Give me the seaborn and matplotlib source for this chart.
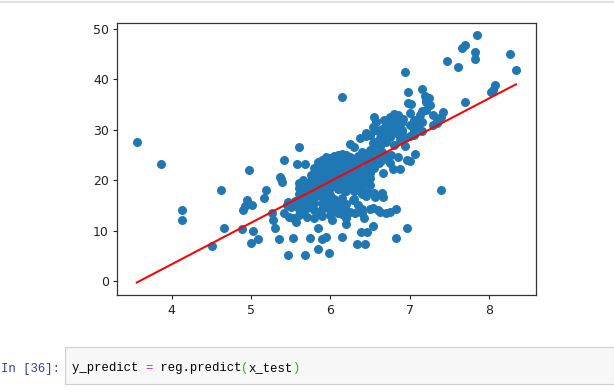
import numpy as np
import matplotlib
matplotlib.use("Agg")
import matplotlib.pyplot as plt
import seaborn as sns
from matplotlib.patches import Rectangle

# sparse points on the left / bottom
left_pts = [(3.56, 27.5), (3.86, 23.1), (4.13, 14.0), (4.13, 12.0), (4.51, 7.0), (4.62, 18.0),
            (4.66, 10.5), (4.88, 10.3), (4.97, 22.0), (4.90, 14.1), (4.95, 16.1), (5.01, 15.1),
            (4.93, 14.8), (5.03, 9.9), (5.00, 7.5), (5.09, 8.3), (5.16, 16.5), (5.19, 18.0),
            (5.26, 13.4), (5.28, 12.1), (5.30, 10.5), (5.35, 8.3), (5.36, 20.7), (5.39, 19.7),
            (5.38, 20.2), (5.42, 23.9), (5.46, 5.1), (5.41, 13.4), (5.47, 15.7), (5.53, 8.5),
            (5.53, 12.4), (5.57, 11.6), (5.60, 26.5), (5.58, 23.1), (5.68, 23.1), (5.68, 5.1),
            (5.74, 8.5), (5.84, 10.5), (5.85, 6.3), (5.89, 8.3), (5.95, 8.8), (5.98, 5.6),
            (6.02, 12.1), (6.15, 8.8), (6.15, 36.4), (6.20, 11.3), (6.33, 7.3), (6.44, 7.3),
            (6.39, 9.7), (6.46, 9.7), (6.54, 11.0), (6.83, 8.5), (6.97, 10.5),
            (5.45, 15.0), (5.50, 14.6), (5.55, 15.8), (5.48, 12.7)]

# upper right points
right_pts = [(7.39, 18.0), (6.94, 41.5), (6.98, 37.4), (6.98, 35.3), (7.02, 35.0), (7.15, 38.1),
             (7.19, 36.6), (7.24, 36.2), (7.26, 34.9), (7.21, 35.6), (7.42, 33.6), (7.40, 32.6),
             (7.34, 31.3), (7.09, 31.9), (7.13, 32.9), (7.70, 35.4), (7.47, 43.7), (7.61, 42.5),
             (7.66, 46.3), (7.70, 46.7), (7.82, 45.4), (7.82, 44.0), (7.85, 48.7), (8.26, 45.0),
             (8.34, 41.8), (8.05, 37.9), (8.08, 38.8), (8.03, 37.5)]

# middle band
mid_pts = [(6.55, 32.6), (6.45, 29.3), (6.37, 28.4), (6.50, 29.0), (6.54, 30.6), (6.58, 30.0),
           (6.63, 28.3), (6.75, 32.6), (6.81, 32.9), (6.83, 31.6), (6.86, 30.0), (6.88, 28.0),
           (6.71, 30.6), (6.78, 30.2), (7.05, 30.0), (7.11, 30.3), (7.05, 29.0), (6.25, 27.2),
           (6.54, 27.3), (6.52, 25.7), (6.63, 26.7), (6.70, 24.7), (6.76, 25.0), (6.61, 23.4),
           (6.67, 21.4), (6.50, 20.4), (6.46, 19.7), (6.56, 16.7), (6.54, 14.4), (6.40, 13.4),
           (6.42, 12.4), (6.31, 13.4), (6.29, 16.1), (6.46, 17.7), (6.83, 14.3), (6.75, 13.6),
           (6.63, 13.6), (6.67, 16.7), (6.65, 17.4), (6.79, 22.2), (6.88, 22.2), (6.94, 28.4),
           (6.94, 26.7), (6.97, 24.0), (7.00, 23.7), (7.07, 25.2),
           (6.58, 31.5), (6.68, 32.0), (6.80, 33.2), (6.92, 32.2), (6.72, 29.0), (6.90, 29.6)]

# dense cluster around rm 5.6 - 6.6
cluster_pts = [
    (5.60, 19.5), (5.60, 18.5), (5.60, 17.2), (5.60, 16.0), (5.60, 15.0), (5.60, 14.2), (5.60, 13.0),
    (5.65, 20.0), (5.65, 18.0), (5.65, 16.5), (5.65, 15.5), (5.65, 14.0),
    (5.70, 19.4), (5.70, 18.6), (5.70, 17.5), (5.70, 16.2), (5.70, 14.5), (5.70, 12.6),
    (5.75, 21.0), (5.75, 19.8), (5.75, 18.5), (5.75, 17.0), (5.75, 15.0),
    (5.80, 22.5), (5.80, 21.2), (5.80, 20.0), (5.80, 19.0), (5.80, 18.0), (5.80, 16.5), (5.80, 15.4),
    (5.80, 14.0), (5.80, 12.5),
    (5.85, 23.5), (5.85, 22.0), (5.85, 20.8), (5.85, 19.6), (5.85, 18.2), (5.85, 17.1), (5.85, 13.6),
    (5.90, 24.0), (5.90, 22.8), (5.90, 21.6), (5.90, 20.4), (5.90, 19.3), (5.90, 18.1), (5.90, 16.8),
    (5.90, 15.5), (5.90, 14.2), (5.90, 12.8),
    (5.95, 24.5), (5.95, 23.3), (5.95, 22.1), (5.95, 21.0), (5.95, 19.8), (5.95, 18.6), (5.95, 17.4),
    (5.95, 16.0), (5.95, 14.8),
    (6.00, 24.3), (6.00, 23.1), (6.00, 22.0), (6.00, 20.9), (6.00, 19.7), (6.00, 18.5), (6.00, 17.0),
    (6.00, 15.6), (6.00, 14.0), (6.00, 13.1),
    (6.05, 24.8), (6.05, 23.6), (6.05, 22.4), (6.05, 21.2), (6.05, 20.1), (6.05, 19.0), (6.05, 16.2),
    (6.05, 14.7),
    (6.10, 25.0), (6.10, 24.0), (6.10, 22.8), (6.10, 21.6), (6.10, 20.5), (6.10, 19.4), (6.10, 18.3),
    (6.10, 15.0), (6.10, 13.5),
    (6.15, 25.2), (6.15, 24.1), (6.15, 23.0), (6.15, 21.8), (6.15, 20.6), (6.15, 19.6), (6.15, 18.2),
    (6.15, 16.4), (6.15, 14.8), (6.15, 13.2),
    (6.20, 25.0), (6.20, 23.8), (6.20, 22.6), (6.20, 21.4), (6.20, 20.2), (6.20, 19.0), (6.20, 17.8),
    (6.20, 15.3), (6.20, 14.0), (6.20, 12.5),
    (6.25, 24.6), (6.25, 23.4), (6.25, 22.2), (6.25, 21.0), (6.25, 19.9), (6.25, 18.7), (6.25, 13.6),
    (6.30, 26.5), (6.30, 24.2), (6.30, 23.0), (6.30, 21.7), (6.30, 20.5), (6.30, 19.3), (6.30, 17.8),
    (6.30, 16.3),
    (6.35, 24.8), (6.35, 23.5), (6.35, 22.3), (6.35, 21.2), (6.35, 19.8), (6.35, 18.4), (6.35, 15.0),
    (6.40, 25.5), (6.40, 24.3), (6.40, 22.0), (6.40, 20.8), (6.40, 18.9), (6.40, 17.3), (6.40, 14.3),
    (6.45, 28.8), (6.45, 24.8), (6.45, 23.4), (6.45, 21.6), (6.45, 20.0), (6.45, 16.8),
    (6.50, 28.9), (6.50, 26.0), (6.50, 24.5), (6.50, 22.9), (6.50, 21.5), (6.50, 19.0), (6.50, 14.2),
    (6.55, 27.5), (6.55, 24.0), (6.55, 22.5), (6.55, 17.5),
    (6.60, 29.7), (6.60, 27.0), (6.60, 25.3), (6.60, 23.8), (6.60, 14.0),
    (6.65, 30.2), (6.65, 28.8), (6.65, 25.6), (6.65, 24.0),
    (6.70, 31.0), (6.70, 29.3), (6.70, 27.5), (6.70, 24.8), (6.70, 13.4),
    (6.75, 32.3), (6.75, 30.5), (6.75, 28.6), (6.75, 23.4),
    (6.80, 31.8), (6.80, 29.8), (6.80, 27.0),
    (6.85, 32.9), (6.85, 30.8), (6.85, 29.2), (6.85, 24.5),
    (6.90, 31.5), (6.90, 30.0),
    (7.00, 33.3), (7.00, 31.0), (7.00, 28.8),
    (7.05, 32.0), (7.05, 30.8),
    (7.15, 33.8), (7.15, 31.6), (7.15, 29.7),
    (7.20, 35.5), (7.20, 34.0),
    (7.30, 33.0), (7.30, 31.0),
    (7.35, 31.8)]

# fitted line end points
fit_x = [3.56, 8.34]
fit_y = [-0.3, 39.0]

x_ticks = [4, 5, 6, 7, 8]
y_ticks = [0, 10, 20, 30, 40, 50]

all_pts = np.array(left_pts + right_pts + mid_pts + cluster_pts)

W, H = 614, 392
fig = plt.figure(figsize=(W / 100, H / 100), dpi=100)
fig.patch.set_facecolor('white')

ax = fig.add_axes([117.3 / W, 1 - 295.3 / H, (536 - 117.3) / W, (295.3 - 23.3) / H])
sns.scatterplot(x=all_pts[:, 0], y=all_pts[:, 1], ax=ax, color='#1f77b4', s=42,
                linewidth=0, alpha=1.0)
sns.lineplot(x=fit_x, y=fit_y, ax=ax, color='red', linewidth=1.45)

ax.set_xlim(3.314, 8.593)
ax.set_ylim(-2.84, 51.1)
ax.set_xticks(x_ticks)
ax.set_yticks(y_ticks)
ax.tick_params(labelsize=9, length=3, width=0.8, pad=3, colors='#222222')
for s in ax.spines.values():
    s.set_linewidth(0.9)
    s.set_color('#333333')

# notebook chrome
fig.add_artist(plt.Line2D([0, 1], [1 - 2 / H, 1 - 2 / H], transform=fig.transFigure,
                          color='#e0e0e0', linewidth=1.5))
fig.add_artist(Rectangle((65 / W, 1 - 384 / H), (W - 65) / W, 37 / H, transform=fig.transFigure,
                         facecolor='#f7f7f7', edgecolor='#cfcfcf', linewidth=0.8))

mono = 'Liberation Mono'
fsize = 8.8
char_w = 0.6 * fsize * 100 / 72
fig.text(1 / W, 1 - 372 / H, 'In [36]:', family=mono, fontsize=fsize, color='#303F9F',
         va='baseline', ha='left')

segments = [('y_predict ', 'black'), ('=', '#AA22FF'), (' reg.predict', 'black'),
            ('(', '#3ca03c'), ('x_test', 'black'), (')', '#3ca03c')]
pos = 72
for txt, col in segments:
    fig.text(pos / W, 1 - 371 / H, txt, family=mono, fontsize=fsize, color=col,
             va='baseline', ha='left')
    pos += len(txt) * char_w

fig.savefig('out.png', dpi=100)
